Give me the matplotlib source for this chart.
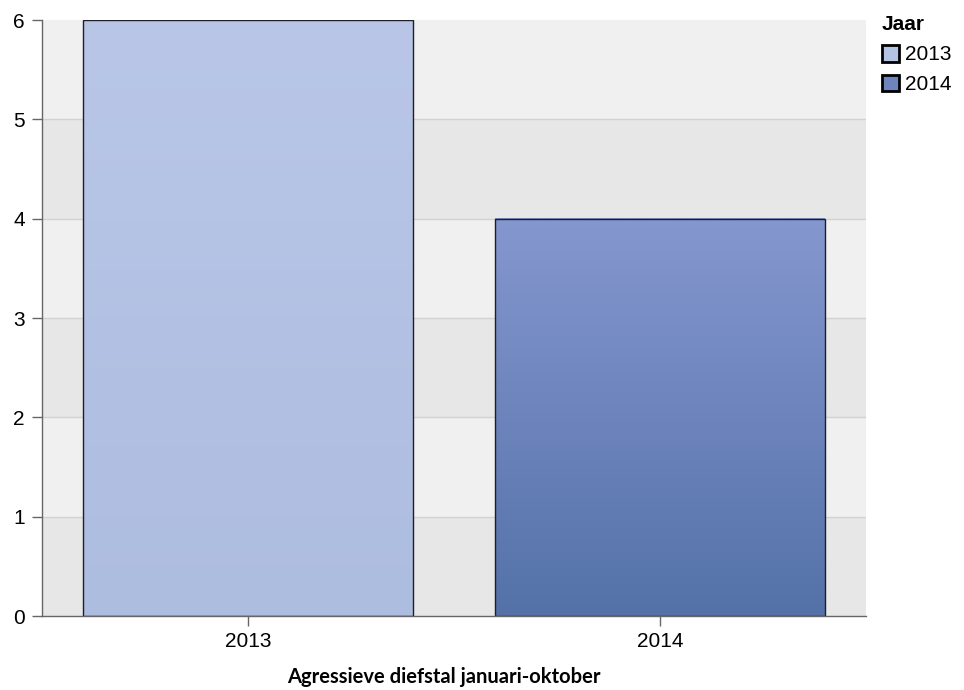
import numpy as np
import matplotlib
matplotlib.use("Agg")
import matplotlib.pyplot as plt
from matplotlib.colors import LinearSegmentedColormap
from matplotlib.patches import Patch

# data
years = ["2013", "2014"]
counts = [6, 4]
top_colors = ["#b9c6e7", "#8597cf"]
bottom_colors = ["#adbde0", "#5472a8"]

fig = plt.figure(figsize=(9.64, 6.9), dpi=100)
ax = fig.add_axes([42/964, 74/690, (866-42)/964, (616-20)/690])

ymax = 6
# alternating background bands
for i in range(ymax):
    ax.axhspan(i, i + 1, color="#e7e7e7" if i % 2 == 0 else "#f0f0f0", zorder=0, lw=0)
    if i > 0:
        ax.axhline(i, color="#d2d2d2", lw=1, zorder=1)

width = 0.8
x = np.arange(len(years))
for xi, h, ct, cb in zip(x, counts, top_colors, bottom_colors):
    cmap = LinearSegmentedColormap.from_list("g", [cb, ct])
    grad = np.linspace(0, 1, 256).reshape(-1, 1)
    ax.imshow(grad, extent=[xi - width/2, xi + width/2, 0, h], origin="lower",
              cmap=cmap, aspect="auto", zorder=2)
    ax.bar(xi, h, width=width, facecolor="none", edgecolor="#1e1e28", lw=1, zorder=3)

ax.set_xlim(-0.5, 1.5)
ax.set_ylim(0, ymax)
ax.set_xticks(x)
ax.set_xticklabels(years)
ax.set_yticks(range(ymax + 1))

for s in ["top", "right"]:
    ax.spines[s].set_visible(False)
for s in ["left", "bottom"]:
    ax.spines[s].set_color("#666666")
    ax.spines[s].set_linewidth(1)
    ax.spines[s].set_zorder(4)
ax.tick_params(axis="both", colors="#666666", length=7.5, width=1, labelcolor="black",
               labelsize=15)
ax.tick_params(axis="y", pad=5)
ax.tick_params(axis="x", pad=4)
for lab in ax.get_xticklabels() + ax.get_yticklabels():
    lab.set_family("Liberation Sans")

fig.text(444/964, 1 - 677/690, "Agressieve diefstal januari-oktober", ha="center", va="center",
         fontsize=14.5, fontweight="bold", family="Lato")

handles = [Patch(facecolor=c, edgecolor="black", lw=2)
           for c in ["#b4c2e4", "#6d84bc"]]
leg = fig.legend(handles, years, title="Jaar", loc="upper left",
                 bbox_to_anchor=(869/964, 1 - 3/690), frameon=False,
                 prop={"family": "Liberation Sans", "size": 15},
                 title_fontproperties={"family": "Liberation Sans", "size": 15, "weight": "bold"},
                 alignment="left", handlelength=0.85, handleheight=0.85, handletextpad=0.3,
                 labelspacing=0.5, borderpad=0.1)

fig.savefig("out.png", dpi=100)
